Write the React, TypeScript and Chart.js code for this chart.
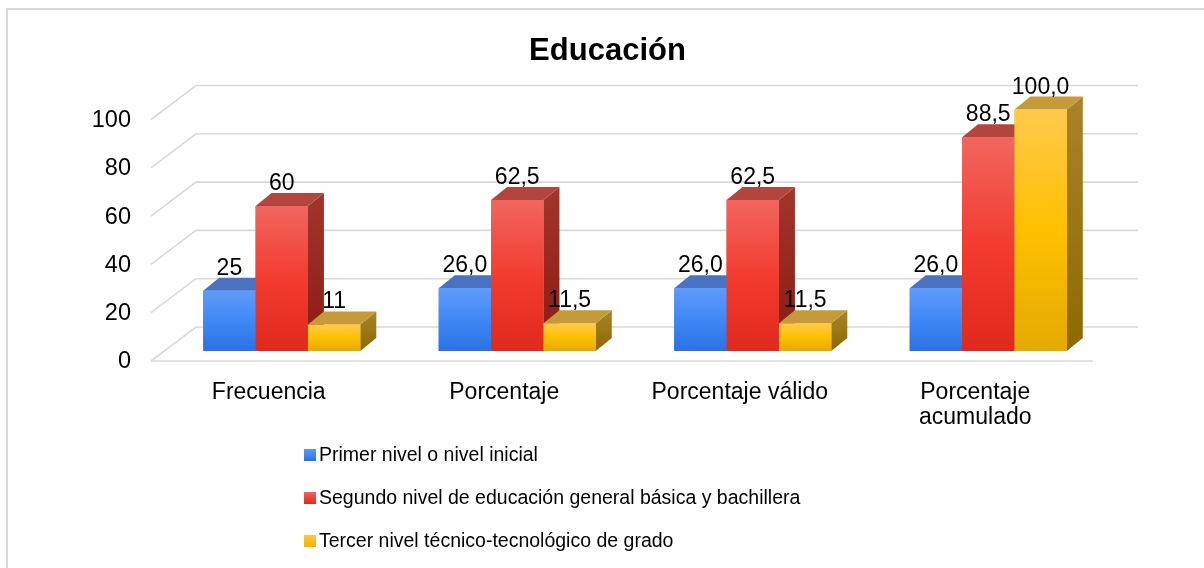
import { useEffect, useRef } from 'react';
import { Chart, registerables } from 'chart.js';

Chart.register(...registerables);

// ---------- data ----------
const TITLE = 'Educación';
const CATEGORIES: (string | string[])[] = ['Frecuencia', 'Porcentaje', 'Porcentaje válido', ['Porcentaje', 'acumulado']];
const SERIES_NAMES = [
  'Primer nivel o nivel inicial',
  'Segundo nivel de educación general básica y bachillera',
  'Tercer nivel técnico-tecnológico de grado',
];
const PRIMER = [25, 26.0, 26.0, 26.0];
const SEGUNDO = [60, 62.5, 62.5, 88.5];
const TERCER = [11, 11.5, 11.5, 100.0];
const DECIMALS = [0, 1, 1, 1];
const Y_TICKS = [0, 20, 40, 60, 80, 100];

// ---------- styles ----------
const FONT = '"Liberation Sans", Arial, sans-serif';
const PALETTE = [
  { front: ['#5f9bfa', '#4088f6', '#2b71e4'], top: '#4a72c2', side: ['#2f5bb0', '#1f4a9a'], legend: ['#5a97f8', '#2c72e5'] },
  { front: ['#f1665f', '#f23c30', '#df291c'], top: '#b2463f', side: ['#a2352c', '#8a1b12'], legend: ['#f0625b', '#df2a1d'] },
  { front: ['#ffc94c', '#ffc000', '#e3aa00'], top: '#c69a3b', side: ['#a9832a', '#8c6a00'], legend: ['#ffc844', '#f0b400'] },
];
const DEPTH = { dx: 16, dy: -13 };
const FLOOR_FRONT = { dx: -13, dy: 10 };
const BACK_WALL = { dx: 32, dy: -24 };
const GRID_COLOR = '#d9d9d9';

function frontGradient(ctx: any, di: number) {
  const chart = ctx.chart;
  const stops = PALETTE[di].front;
  const area = chart.chartArea;
  const y = chart.scales?.y;
  if (!area || !y || ctx.type !== 'data') return stops[1];
  const top = y.getPixelForValue(ctx.raw);
  const bottom = y.getPixelForValue(0);
  const g = chart.ctx.createLinearGradient(0, top, 0, bottom);
  stops.forEach((c: string, k: number) => g.addColorStop(k / (stops.length - 1), c));
  return g;
}

function formatValue(v: number, i: number) {
  return v.toFixed(DECIMALS[i]).replace('.', ',');
}

const scenePlugin = {
  id: 'scene3d',
  beforeDraw(chart: any) {
    const { ctx } = chart;
    ctx.save();
    ctx.strokeStyle = GRID_COLOR;
    ctx.lineWidth = 2;
    ctx.strokeRect(7, 9, chart.width + 50, chart.height + 50);
    // title
    ctx.fillStyle = '#000';
    ctx.font = `bold 31px ${FONT}`;
    ctx.textAlign = 'center';
    ctx.textBaseline = 'alphabetic';
    ctx.fillText(TITLE, 607.5, 60);
    ctx.restore();
  },
  beforeDatasetsDraw(chart: any) {
    const { ctx, chartArea: a } = chart;
    const y = chart.scales.y;
    ctx.save();
    ctx.strokeStyle = GRID_COLOR;
    ctx.lineWidth = 1.6;
    y.ticks.forEach((t: any) => {
      const p = y.getPixelForValue(t.value);
      ctx.beginPath();
      ctx.moveTo(a.left + FLOOR_FRONT.dx, p + FLOOR_FRONT.dy);
      ctx.lineTo(a.left + BACK_WALL.dx, p + BACK_WALL.dy);
      ctx.lineTo(a.right + BACK_WALL.dx, p + BACK_WALL.dy);
      ctx.stroke();
    });
    const p0 = y.getPixelForValue(0);
    ctx.beginPath();
    ctx.moveTo(a.left + FLOOR_FRONT.dx, p0 + FLOOR_FRONT.dy);
    ctx.lineTo(a.right + FLOOR_FRONT.dx, p0 + FLOOR_FRONT.dy);
    ctx.stroke();
    ctx.restore();
  },
  afterDatasetsDraw(chart: any) {
    const { ctx } = chart;
    const bars: any[] = [];
    chart.data.datasets.forEach((_ds: any, di: number) => {
      const meta = chart.getDatasetMeta(di);
      meta.data.forEach((el: any, i: number) => bars.push({ el, di, i }));
    });
    bars.sort((p, q) => p.el.x - q.el.x);
    ctx.save();
    bars.forEach(({ el, di }) => {
      const { x, y: top, base, width } = el.getProps(['x', 'y', 'base', 'width'], true);
      const l = x - width / 2;
      const r = x + width / 2;
      const pal = PALETTE[di];
      // side face
      const sg = ctx.createLinearGradient(0, top + DEPTH.dy, 0, base);
      sg.addColorStop(0, pal.side[0]);
      sg.addColorStop(1, pal.side[1]);
      ctx.fillStyle = sg;
      ctx.beginPath();
      ctx.moveTo(r, top);
      ctx.lineTo(r + DEPTH.dx, top + DEPTH.dy);
      ctx.lineTo(r + DEPTH.dx, base + DEPTH.dy);
      ctx.lineTo(r, base);
      ctx.closePath();
      ctx.fill();
      // top face
      ctx.fillStyle = pal.top;
      ctx.beginPath();
      ctx.moveTo(l, top);
      ctx.lineTo(r, top);
      ctx.lineTo(r + DEPTH.dx, top + DEPTH.dy);
      ctx.lineTo(l + DEPTH.dx, top + DEPTH.dy);
      ctx.closePath();
      ctx.fill();
      // front face, drawn by the bar element itself
      el.draw(ctx);
    });
    // data labels
    ctx.fillStyle = '#000';
    ctx.font = `23px ${FONT}`;
    ctx.textAlign = 'center';
    ctx.textBaseline = 'alphabetic';
    bars.forEach(({ el, di, i }) => {
      const v = chart.data.datasets[di].data[i];
      ctx.fillText(formatValue(v, i), el.x, el.y - 16);
    });
    ctx.restore();
  },
  afterDraw(chart: any) {
    const { ctx } = chart;
    const x0 = 304;
    const box = 12;
    const firstBaseline = 461;
    const step = 43;
    ctx.save();
    ctx.font = `19.5px ${FONT}`;
    ctx.textAlign = 'left';
    ctx.textBaseline = 'alphabetic';
    chart.data.datasets.forEach((ds: any, di: number) => {
      const by = firstBaseline + di * step;
      const g = ctx.createLinearGradient(0, by - box, 0, by);
      g.addColorStop(0, PALETTE[di].legend[0]);
      g.addColorStop(1, PALETTE[di].legend[1]);
      ctx.fillStyle = g;
      ctx.fillRect(x0, by - box, box, box);
      ctx.fillStyle = '#000';
      ctx.fillText(ds.label, x0 + box + 3, by);
    });
    ctx.restore();
  },
};

export default function App() {
  const ref = useRef<HTMLCanvasElement>(null);
  useEffect(() => {
    const canvas = ref.current;
    if (!canvas) return;
    const series = [PRIMER, SEGUNDO, TERCER];
    const chart = new Chart(canvas, {
      type: 'bar',
      data: {
        labels: CATEGORIES,
        datasets: series.map((values, di) => ({
          label: SERIES_NAMES[di],
          data: values,
          backgroundColor: (c: any) => frontGradient(c, di),
          borderWidth: 0,
          barPercentage: 1,
          categoryPercentage: 0.667,
        })),
      },
      options: {
        animation: false,
        responsive: false,
        devicePixelRatio: 1,
        layout: { padding: { left: 44, right: 98, top: 109.5, bottom: 137 } },
        plugins: {
          legend: { display: false },
          tooltip: { enabled: false },
          title: { display: false },
        },
        scales: {
          x: {
            grid: { display: false },
            border: { display: false },
            ticks: {
              color: '#000',
              font: { family: FONT, size: 23, lineHeight: 1.1 },
              padding: 21,
              labelOffset: FLOOR_FRONT.dx,
              maxRotation: 0,
              autoSkip: false,
            },
            afterFit: (s: any) => { s.height = 80; },
          },
          y: {
            min: Y_TICKS[0],
            max: Y_TICKS[Y_TICKS.length - 1],
            grid: { display: false },
            border: { display: false },
            ticks: {
              stepSize: Y_TICKS[1] - Y_TICKS[0],
              color: '#000',
              font: { family: FONT, size: 23.5 },
              padding: 25,
              labelOffset: 11,
            },
            afterFit: (s: any) => { s.width = 120; },
          },
        },
      } as any,
      plugins: [scenePlugin],
    });
    return () => chart.destroy();
  }, []);
  return (
    <div style={{ position: 'fixed', left: 0, top: 0, width: 1204, height: 568, overflow: 'hidden', background: '#fff' }}>
      <canvas ref={ref} width={1204} height={568} style={{ display: 'block', width: 1204, height: 568 }} />
    </div>
  );
}
